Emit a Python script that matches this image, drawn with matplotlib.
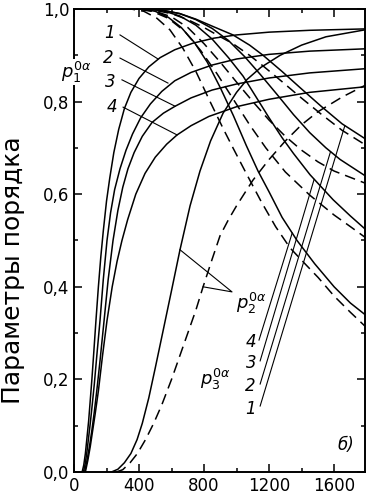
import matplotlib
matplotlib.use("Agg")
import matplotlib.pyplot as plt
from matplotlib.ticker import MultipleLocator, FuncFormatter

plt.rcParams['font.family'] = ['DejaVu Sans']
plt.rcParams['mathtext.fontset'] = 'dejavusans'

# p1 curves (solid), labels 1..4
p1_x = [
    [50, 60, 70, 80, 90, 100, 110, 122, 135, 150, 165, 180, 200, 220, 245, 275, 310, 350, 400, 460, 530, 620, 730, 860, 1000, 1200, 1450, 1790],
    [58, 70, 80, 90, 100, 112, 125, 140, 160, 180, 203, 225, 250, 283, 320, 360, 410, 470, 540, 620, 720, 850, 1000, 1200, 1450, 1790],
    [65, 80, 95, 110, 125, 140, 160, 185, 210, 240, 270, 300, 332, 370, 420, 480, 550, 622, 720, 850, 1000, 1200, 1450, 1790],
    [70, 85, 100, 115, 130, 150, 175, 203, 235, 265, 295, 330, 380, 437, 500, 570, 634, 720, 830, 1000, 1200, 1450, 1790],
]
p1_y = [
    [0.0, 0.015, 0.04, 0.075, 0.11, 0.155, 0.2, 0.26, 0.327, 0.40, 0.465, 0.52, 0.585, 0.635, 0.69, 0.74, 0.785, 0.82, 0.85, 0.875, 0.895, 0.912, 0.926, 0.937, 0.944, 0.95, 0.954, 0.957],
    [0.0, 0.02, 0.045, 0.075, 0.105, 0.145, 0.19, 0.25, 0.327, 0.415, 0.5, 0.56, 0.61, 0.655, 0.695, 0.73, 0.765, 0.795, 0.822, 0.845, 0.863, 0.879, 0.892, 0.902, 0.909, 0.914],
    [0.0, 0.025, 0.055, 0.09, 0.13, 0.175, 0.24, 0.327, 0.415, 0.5, 0.565, 0.615, 0.655, 0.69, 0.725, 0.755, 0.775, 0.79, 0.808, 0.825, 0.838, 0.851, 0.862, 0.871],
    [0.0, 0.025, 0.055, 0.09, 0.125, 0.175, 0.25, 0.327, 0.4, 0.455, 0.5, 0.545, 0.6, 0.645, 0.68, 0.708, 0.728, 0.748, 0.768, 0.789, 0.805, 0.82, 0.832],
]

# p2 curves (rising from ~250)
p2_solid_x = [230, 270, 310, 350, 388, 420, 460, 500, 548, 600, 652, 714, 775, 840, 917, 1000, 1065, 1150, 1268, 1400, 1550, 1790]
p2_solid_y = [0.0, 0.006, 0.02, 0.04, 0.07, 0.105, 0.16, 0.225, 0.305, 0.392, 0.48, 0.575, 0.65, 0.715, 0.775, 0.82, 0.848, 0.874, 0.9, 0.922, 0.94, 0.955]
p2_dash_x = [260, 300, 345, 390, 440, 490, 540, 600, 650, 695, 750, 794, 850, 898, 950, 1000, 1100, 1200, 1300, 1400, 1500, 1650, 1790]
p2_dash_y = [0.0, 0.005, 0.02, 0.04, 0.07, 0.105, 0.145, 0.2, 0.25, 0.295, 0.35, 0.4, 0.46, 0.51, 0.545, 0.575, 0.63, 0.675, 0.715, 0.75, 0.778, 0.81, 0.835]

# p3 curves (falling), solid and dashed, labels 1..4
p3_solid_x = [
    [0, 450, 550, 652, 750, 850, 978, 1080, 1163, 1280, 1391, 1520, 1649, 1790],
    [0, 450, 550, 650, 750, 850, 950, 1050, 1150, 1250, 1350, 1450, 1550, 1637, 1790],
    [0, 450, 550, 650, 750, 850, 950, 1040, 1120, 1200, 1280, 1350, 1452, 1594, 1700, 1790],
    [0, 420, 500, 580, 660, 740, 820, 900, 980, 1060, 1132, 1200, 1280, 1372, 1480, 1600, 1700, 1790],
]
p3_solid_y = [
    [1.0, 1.0, 0.997, 0.99, 0.978, 0.963, 0.944, 0.922, 0.9, 0.865, 0.83, 0.79, 0.752, 0.72],
    [1.0, 1.0, 0.997, 0.99, 0.977, 0.958, 0.932, 0.897, 0.857, 0.815, 0.772, 0.733, 0.7, 0.675, 0.64],
    [1.0, 1.0, 0.996, 0.985, 0.965, 0.935, 0.895, 0.855, 0.81, 0.765, 0.722, 0.688, 0.642, 0.588, 0.553, 0.525],
    [1.0, 1.0, 0.995, 0.982, 0.96, 0.928, 0.885, 0.83, 0.77, 0.705, 0.65, 0.605, 0.55, 0.5, 0.45, 0.4, 0.365, 0.34],
]
p3_dash_x = [
    [0, 400, 500, 600, 700, 800, 900, 978, 1080, 1163, 1280, 1391, 1520, 1649, 1790],
    [0, 400, 500, 600, 700, 800, 900, 1000, 1100, 1200, 1300, 1400, 1500, 1600, 1790],
    [0, 380, 480, 580, 680, 780, 880, 980, 1080, 1180, 1300, 1450, 1600, 1700, 1790],
    [0, 350, 430, 510, 590, 670, 750, 837, 920, 978, 1052, 1150, 1240, 1329, 1420, 1502, 1600, 1700, 1790],
]
p3_dash_y = [
    [1.0, 1.0, 0.997, 0.99, 0.977, 0.96, 0.94, 0.925, 0.9, 0.877, 0.843, 0.81, 0.773, 0.738, 0.707],
    [1.0, 1.0, 0.995, 0.983, 0.96, 0.925, 0.885, 0.842, 0.8, 0.76, 0.725, 0.695, 0.67, 0.65, 0.624],
    [1.0, 1.0, 0.995, 0.98, 0.952, 0.91, 0.86, 0.805, 0.75, 0.7, 0.648, 0.598, 0.555, 0.53, 0.507],
    [1.0, 1.0, 0.995, 0.98, 0.955, 0.915, 0.865, 0.8, 0.74, 0.7, 0.65, 0.585, 0.53, 0.484, 0.45, 0.42, 0.38, 0.345, 0.315],
]

labels = ['1', '2', '3', '4']

fig = plt.figure(figsize=(3.71, 5.0), dpi=100)
ax = fig.add_axes([74 / 371, 28 / 500, 291 / 371, 463 / 500])

lw = 1.1
for xs, ys in zip(p1_x, p1_y):
    ax.plot(xs, ys, color='black', lw=lw)
ax.plot(p2_solid_x, p2_solid_y, color='black', lw=lw)
ax.plot(p2_dash_x, p2_dash_y, color='black', lw=lw, dashes=(7, 4))
for xs, ys in zip(p3_solid_x, p3_solid_y):
    ax.plot(xs, ys, color='black', lw=lw)
for xs, ys in zip(p3_dash_x, p3_dash_y):
    ax.plot(xs, ys, color='black', lw=lw, dashes=(7, 4))

ax.set_xlim(0, 1790)
ax.set_ylim(0, 1.0)
ax.xaxis.set_major_locator(MultipleLocator(400))
ax.xaxis.set_minor_locator(MultipleLocator(200))
ax.yaxis.set_major_locator(MultipleLocator(0.2))
ax.yaxis.set_minor_locator(MultipleLocator(0.1))
ax.yaxis.set_major_formatter(FuncFormatter(lambda v, p: f"{v:.1f}".replace('.', ',')))
ax.tick_params(which='both', direction='in', top=True, right=True, labelsize=12, width=1.1)
ax.tick_params(which='major', length=6)
ax.tick_params(which='minor', length=3)
for s in ax.spines.values():
    s.set_linewidth(1.4)

fig.text(13 / 371, 1 - 270 / 500, 'Параметры порядка', rotation=90,
         ha='center', va='center', fontsize=18)

# p1 labels with leaders
lab_pos = [(221, 0.948), (209, 0.894), (221, 0.842), (234, 0.788)]
lead_start = [(283, 0.944), (283, 0.894), (295, 0.847), (302, 0.788)]
lead_end = [(517, 0.892), (578, 0.84), (622, 0.79), (634, 0.728)]
for t, p, s, e in zip(labels, lab_pos, lead_start, lead_end):
    ax.text(p[0], p[1], t, style='italic', fontsize=12, ha='center', va='center')
    ax.plot([s[0], e[0]], [s[1], e[1]], color='black', lw=0.8)

ax.text(12, 0.864, r'$p_1^{0\alpha}$', fontsize=13, ha='center', va='center',
        bbox=dict(facecolor='white', edgecolor='none', pad=0.5), clip_on=False, zorder=5)

# p2 label
ax.text(1090, 0.365, r'$p_2^{0\alpha}$', fontsize=13, ha='center', va='center')
ax.plot([652, 972, 794], [0.48, 0.389, 0.40], color='black', lw=0.8)

# p3 label and 4..1 leaders
ax.text(868, 0.199, r'$p_3^{0\alpha}$', fontsize=13, ha='center', va='center')
p3_lab = [(1089, 0.281), (1089, 0.235), (1083, 0.186), (1083, 0.136)]
p3_start = [(1138, 0.285), (1145, 0.240), (1145, 0.190), (1145, 0.1425)]
p3_end = [(1342, 0.516), (1477, 0.632), (1578, 0.692), (1666, 0.748)]
for t, p, s, e in zip(['4', '3', '2', '1'], p3_lab, p3_start, p3_end):
    ax.text(p[0], p[1], t, style='italic', fontsize=12, ha='center', va='center')
    ax.plot([s[0], e[0]], [s[1], e[1]], color='black', lw=0.8)

ax.text(1670, 0.058, 'б)', style='italic', fontsize=12, ha='center', va='center')

fig.savefig('out.png', dpi=100)
